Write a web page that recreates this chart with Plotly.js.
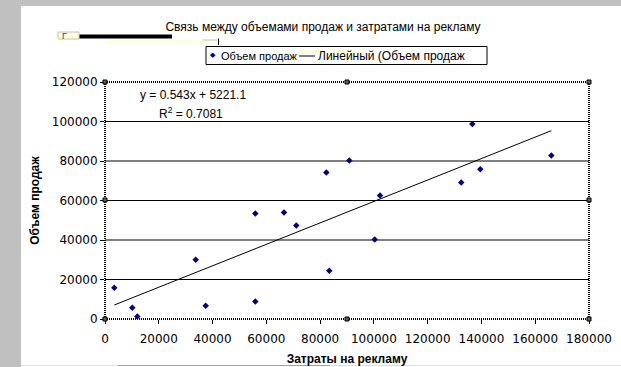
<!DOCTYPE html>
<html>
<head>
<meta charset="utf-8">
<script src="https://cdn.plot.ly/plotly-3.0.1.min.js"></script>
<style>
html,body{margin:0;padding:0;background:#ffffff;}
#chart{width:621px;height:367px;}
</style>
</head>
<body>
<div id="chart"></div>
<script>
// ---- data ----
const adSpend = [3460, 10160, 12010, 33730, 37450, 55900, 55900, 66570, 71150, 82300, 83420, 90860, 100300, 102270, 132500, 136600, 139580, 165980];
const salesVolume = [15830, 5680, 1270, 30040, 6700, 53380, 8880, 53890, 47290, 74180, 24460, 80270, 40190, 62510, 69110, 98690, 75860, 82810];
const trendSlope = 0.543;
const trendIntercept = 5221.1;
const rSquared = 0.7081;
const xTicks = [0, 20000, 40000, 60000, 80000, 100000, 120000, 140000, 160000, 180000];
const yTicks = [0, 20000, 40000, 60000, 80000, 100000, 120000];
const chartTitle = 'Связь между объемами продаж и затратами на рекламу';
const xTitle = 'Затраты на рекламу';
const yTitle = 'Объем продаж';
const seriesName = 'Объем продаж';
const trendName = 'Линейный (Объем продаж';

// ---- geometry helpers (pixel -> paper) ----
const W = 621, H = 367;
const M = {l:105, r:32, t:82, b:48};
const PW = W - M.l - M.r, PH = H - M.t - M.b;
const px = x => (x - M.l) / PW;
const py = y => (H - M.b - y) / PH;

function rect(x0, y0, x1, y1, fill, line, lw) {
  return {type:'rect', xref:'paper', yref:'paper', x0:px(x0), x1:px(x1), y0:py(y1), y1:py(y0),
    fillcolor:fill, line:{color:line||fill, width:lw===undefined?0:lw}, layer:'above'};
}
function seg(x0, y0, x1, y1, color, w, dash) {
  return {type:'line', xref:'paper', yref:'paper', x0:px(x0), x1:px(x1), y0:py(y0), y1:py(y1),
    line:{color:color, width:w, dash:dash||'solid'}, layer:'above'};
}

const xMin = Math.min(...adSpend), xMax = Math.max(...adSpend);
const trendX = [xMin, xMax];
const trendY = trendX.map(v => trendSlope * v + trendIntercept);

const traces = [
  {x: trendX, y: trendY, type:'scatter', mode:'lines', name: trendName,
   line:{color:'#000000', width:1}, hoverinfo:'skip', showlegend:false},
  {x: adSpend, y: salesVolume, type:'scatter', mode:'markers', name: seriesName,
   marker:{symbol:'diamond', size:5, color:'#000080'}, showlegend:false}
];

const shapes = [];
// horizontal gridlines
yTicks.slice(1, -1).forEach(v => shapes.push({type:'line', xref:'paper', yref:'y', x0:0, x1:1, y0:v, y1:v,
  line:{color:'#000000', width:1}, layer:'below'}));
// window background bands
shapes.push(rect(0, 0, W, 6, '#c0c0c0'));
shapes.push(rect(0, 0, 21, H, '#c0c0c0'));
shapes.push(seg(21, 365.5, W, 365.5, '#e0e0e0', 1));
shapes.push(seg(118, 365.5, 330, 365.5, '#a0a0a0', 1));
// dotted plot-area frame
shapes.push(seg(105, 82, 589, 82, '#000000', 2, '1px,1px'));
shapes.push(seg(105, 319, 589, 319, '#000000', 2, '1px,1px'));
shapes.push(seg(105, 82, 105, 319, '#000000', 2, '1px,1px'));
shapes.push(seg(589, 82, 589, 319, '#000000', 2, '1px,1px'));
// selection handles
[[105,82],[347,82],[589,82],[589,200],[589,319],[347,319],[105,319],[105,200]].forEach(p => {
  shapes.push(rect(p[0]-2, p[1]-2, p[0]+2, p[1]+2, '#606060', '#000000', 1));
});
// screen artefacts at top-left
shapes.push(rect(58, 32, 79, 39, '#ffffe1', '#c0c0c0', 1));
shapes.push(rect(79.5, 34.5, 172, 38.5, '#000000'));
shapes.push(rect(105, 39.5, 217, 44, '#ffffe1', '#ffffe1', 0));
shapes.push(seg(203, 40, 217, 40, '#c0c0c0', 1));
shapes.push(seg(218.5, 38.5, 218.5, 45, '#000000', 1));
// legend box
shapes.push(rect(206, 46.5, 487, 64.5, '#ffffff', '#000000', 1));
shapes.push(rect(297, 50, 363, 53, '#ffffe1'));
shapes.push(seg(299, 56, 315, 56, '#000000', 1));

const F = 'Liberation Sans, Arial';
const annotations = [
  {xref:'paper', yref:'paper', x:px(138), y:py(95), xanchor:'left', yanchor:'middle', showarrow:false,
   text:'y = ' + trendSlope + 'x + ' + trendIntercept, font:{family:F, size:12, color:'#000'}},
  {xref:'paper', yref:'paper', x:px(157), y:py(113), xanchor:'left', yanchor:'middle', showarrow:false,
   text:'R<sup>2</sup> = ' + rSquared, font:{family:F, size:12, color:'#000'}},
  {xref:'paper', yref:'paper', x:px(219), y:py(56), xanchor:'left', yanchor:'middle', showarrow:false,
   text:seriesName, font:{family:F, size:11, color:'#000'}},
  {xref:'paper', yref:'paper', x:px(316), y:py(56), xanchor:'left', yanchor:'middle', showarrow:false,
   text:trendName, font:{family:F, size:12, color:'#000'}},
  {xref:'paper', yref:'paper', x:px(213), y:py(55.5), xanchor:'center', yanchor:'middle', showarrow:false,
   text:'◆', font:{family:'DejaVu Sans', size:7, color:'#000080'}},
  {xref:'paper', yref:'paper', x:px(60), y:py(36), xanchor:'left', yanchor:'middle', showarrow:false,
   text:'Г', font:{family:F, size:9, color:'#444'}}
];

const layout = {
  width: W, height: H,
  margin: M,
  paper_bgcolor:'#ffffff', plot_bgcolor:'#ffffff',
  title: {text: chartTitle, x: 323/W, xanchor:'center', y: 1 - 27/H, yanchor:'middle',
    font:{family:F, size:12, color:'#000'}},
  showlegend:false,
  xaxis: {range:[0,180000], tickvals:xTicks, ticktext:xTicks.map(String), showgrid:false, zeroline:false,
    showline:false, ticks:'outside', ticklen:4, tickcolor:'#000', tickwidth:1, ticklabelstandoff:5,
    tickfont:{family:'DejaVu Sans', size:12, color:'#000'},
    title:{text:xTitle, font:{family:F, size:12, color:'#000', weight:'bold'}, standoff:9}},
  yaxis: {range:[0,120000], tickvals:yTicks, ticktext:yTicks.map(String), showgrid:false, zeroline:false,
    showline:false, ticks:'outside', ticklen:4, tickcolor:'#000', tickwidth:1,
    tickfont:{family:'DejaVu Sans', size:12, color:'#000'},
    title:{text:yTitle, font:{family:F, size:12, color:'#000', weight:'bold'}, standoff:9}},
  shapes: shapes,
  annotations: annotations
};

Plotly.newPlot('chart', traces, layout, {displayModeBar:false, staticPlot:true});
</script>
</body>
</html>
